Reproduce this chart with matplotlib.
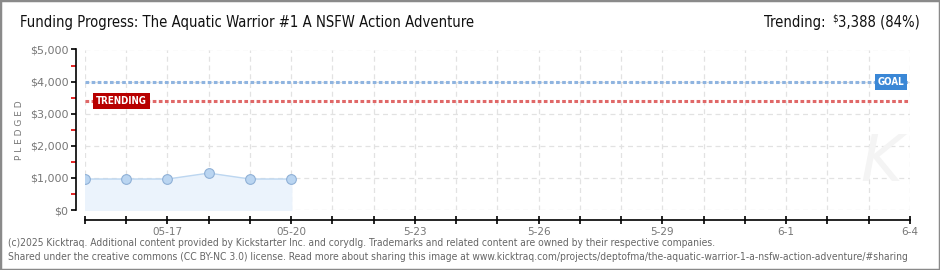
import datetime as dt

import matplotlib
matplotlib.use("Agg")
import matplotlib.pyplot as plt
import matplotlib.transforms as mtrans
from matplotlib.patches import Rectangle

# data
dates = ["2025-05-15", "2025-05-16", "2025-05-17", "2025-05-18", "2025-05-19", "2025-05-20"]
pledged = [965, 965, 965, 1150, 965, 965]
goal = 4000
trending = 3388
trending_pct = 84
x_start, x_end = "2025-05-15", "2025-06-04"
label_days = ["2025-05-17", "2025-05-20", "2025-05-23", "2025-05-26", "2025-05-29", "2025-06-01", "2025-06-04"]
label_text = ["05-17", "05-20", "5-23", "5-26", "5-29", "6-1", "6-4"]
y_ticks = [0, 1000, 2000, 3000, 4000, 5000]
y_labels = ["$0", "$1,000", "$2,000", "$3,000", "$4,000", "$5,000"]

title = "Funding Progress: The Aquatic Warrior #1 A NSFW Action Adventure"
foot1 = ("(c)2025 Kicktraq. Additional content provided by Kickstarter Inc. and corydlg. "
         "Trademarks and related content are owned by their respective companies.")
foot2 = ("Shared under the creative commons (CC BY-NC 3.0) license. Read more about sharing this image at "
         "www.kicktraq.com/projects/deptofma/the-aquatic-warrior-1-a-nsfw-action-adventure/#sharing")

W, H = 940, 270
NARROW = dict(family="DejaVu Sans", stretch="condensed")


def d(s):
    return dt.datetime.strptime(s, "%Y-%m-%d")


fig = plt.figure(figsize=(W / 100, H / 100), dpi=100)
fig.patch.set_facecolor("white")
fig.patches.append(Rectangle((0, 0), 1, 1, transform=fig.transFigure, fill=False,
                             edgecolor="#8a8a8a", linewidth=2.5))

ax = fig.add_axes([85 / W, 1 - 210 / H, 825 / W, (210 - 49.5) / H])
xs = [d(s) for s in dates]

# grid: daily verticals, $1,000 horizontals
all_days = [d(x_start) + dt.timedelta(days=i) for i in range((d(x_end) - d(x_start)).days + 1)]
for day in all_days:
    ax.axvline(day, color="#e2e2e2", lw=0.9, ls=(0, (4, 3)), zorder=0)
for v in y_ticks:
    ax.axhline(v, color="#e2e2e2", lw=0.9, ls=(0, (4, 3)), zorder=0)

ax.fill_between(xs, pledged, 0, color="#ebf3fc", zorder=1)
ax.plot(xs, pledged, color="#bcd6f0", lw=1, zorder=2)
ax.plot(xs, pledged, ls="none", marker="o", ms=7, mfc="#bad5f1", mec="#8fb0d6", mew=0.8, zorder=5)

ax.axhline(goal, color="#8fb4e0", lw=2.2, ls=(0, (1.2, 0.8)), zorder=3)
ax.axhline(trending, color="#e06868", lw=2.2, ls=(0, (1.2, 0.8)), zorder=3)

blend = mtrans.blended_transform_factory(ax.transAxes, ax.transData)
ax.text(0.993, goal, "GOAL", transform=blend, ha="right", va="center", fontsize=7,
        color="white", fontweight="bold", zorder=6, **NARROW,
        bbox=dict(boxstyle="square,pad=0.3", fc="#3a87d6", ec="none"))
ax.text(0.013, trending, "TRENDING", transform=blend, ha="left", va="center", fontsize=7,
        color="white", fontweight="bold", zorder=6, **NARROW,
        bbox=dict(boxstyle="square,pad=0.3", fc="#b80000", ec="none"))

# faint watermark
ax.text(0.965, 0.1, "K", transform=ax.transAxes, ha="center", va="bottom", fontsize=46,
        style="italic", color="#f4f4f4", zorder=0)

ax.set_xlim(d(x_start), d(x_end))
ax.set_ylim(0, 5000)
for s in ["top", "right"]:
    ax.spines[s].set_visible(False)
ax.spines["left"].set_position(("outward", 6.5))
ax.spines["bottom"].set_position(("outward", 7.2))
ax.spines["left"].set_linewidth(1.2)
ax.spines["bottom"].set_linewidth(1.2)

ax.set_xticks(all_days)
ax.set_xticklabels([label_text[label_days.index(day.strftime("%Y-%m-%d"))]
                    if day.strftime("%Y-%m-%d") in label_days else "" for day in all_days])
ax.tick_params(axis="x", direction="inout", length=6, width=1.2, colors="black",
               labelcolor="#777777", labelsize=7.5, pad=2)
ax.set_yticks(y_ticks)
ax.set_yticklabels(y_labels)
ax.set_yticks([500, 1500, 2500, 3500, 4500], minor=True)
ax.tick_params(axis="y", which="major", direction="out", length=3.5, width=1.2, colors="black",
               labelcolor="#777777", labelsize=8, pad=2)
ax.tick_params(axis="y", which="minor", direction="out", length=3.5, width=1.2, colors="#dd0000")
ax.set_ylabel("P L E D G E D", fontsize=6.5, color="#777777", labelpad=4)

fig.text(20 / W, 1 - 22 / H, title, fontsize=10.6, color="#111111",
         ha="left", va="center", **NARROW)
t = fig.text(920 / W, 1 - 22 / H, "3,388 (%d%%)" % trending_pct, fontsize=10.6,
             color="#111111", ha="right", va="center", **NARROW)
t2 = ax.annotate("$", xy=(0, 0.75), xycoords=t, ha="right", va="center",
                 fontsize=7, color="#111111", annotation_clip=False, **NARROW)
ax.annotate("Trending: ", xy=(-0.6, 0.5), xycoords=(t2, t), ha="right", va="center",
            fontsize=10.6, color="#111111", annotation_clip=False, **NARROW)

fig.text(8 / W, 1 - 243 / H, foot1, fontsize=7.4, color="#666666", va="center", **NARROW)
fig.text(8 / W, 1 - 257 / H, foot2, fontsize=7.4, color="#666666", va="center", **NARROW)

fig.savefig("out.png", dpi=100)
